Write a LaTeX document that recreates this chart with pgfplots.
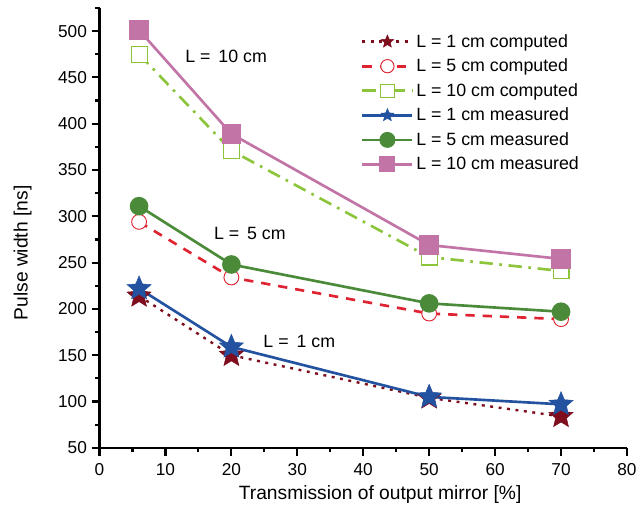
\documentclass[border=0pt]{standalone}
\usepackage{fontspec}
\setmainfont{Liberation Sans}
\usepackage{pgfplots}
\pgfplotsset{compat=1.18}
\usetikzlibrary{calc}
\definecolor{cRedDark}{HTML}{7E0E1E}
\definecolor{cRed}{HTML}{E02330}
\definecolor{cLime}{HTML}{8CC43C}
\definecolor{cBlue}{HTML}{2352A0}
\definecolor{cGreen}{HTML}{4A8A38}
\definecolor{cPink}{HTML}{C274A6}

% filled five-pointed star
\pgfdeclareplotmark{fstar}{%
  \pgfpathmoveto{\pgfpointpolar{90}{\pgfplotmarksize}}%
  \pgfpathlineto{\pgfpointpolar{126}{0.45\pgfplotmarksize}}%
  \pgfpathlineto{\pgfpointpolar{162}{\pgfplotmarksize}}%
  \pgfpathlineto{\pgfpointpolar{198}{0.45\pgfplotmarksize}}%
  \pgfpathlineto{\pgfpointpolar{234}{\pgfplotmarksize}}%
  \pgfpathlineto{\pgfpointpolar{270}{0.45\pgfplotmarksize}}%
  \pgfpathlineto{\pgfpointpolar{306}{\pgfplotmarksize}}%
  \pgfpathlineto{\pgfpointpolar{342}{0.45\pgfplotmarksize}}%
  \pgfpathlineto{\pgfpointpolar{18}{\pgfplotmarksize}}%
  \pgfpathlineto{\pgfpointpolar{54}{0.45\pgfplotmarksize}}%
  \pgfpathclose
  \pgfusepathqfillstroke}

\begin{document}
\begin{tikzpicture}
\begin{axis}[
  name=ax,
  scale only axis,
  width=397.5pt, height=331.5pt,
  xmin=0, xmax=80, ymin=50, ymax=525,
  axis lines=left,
  axis line style={line width=1.6pt, -},
  xtick={0,10,...,80}, ytick={50,100,...,500},
  minor xtick={5,15,...,75}, minor ytick={75,125,...,525},
  tick align=outside,
  major tick length=6pt, minor tick length=3.5pt,
  every tick/.style={black, line width=1.6pt},
  tick label style={font=\fontsize{13}{15}\selectfont},
  xticklabel style={yshift=-2pt},
  /pgf/number format/assume math mode=true,
  xlabel={Transmission of output mirror [\%]},
  ylabel={Pulse width [ns]},
  label style={font=\fontsize{14.5}{17}\selectfont},
  xlabel style={at={(ticklabel cs:0.532)}, yshift=-1pt},
  ylabel style={at={(ticklabel cs:0.443)}, yshift=13pt},
  legend cell align=left,
  legend style={draw=none, fill=none, at={(rel axis cs:0.488,0.953)}, anchor=north west,
    font=\fontsize{13.4}{16}\selectfont, row sep=3.3pt},
  legend image code/.code={
    \draw[mark repeat=2,mark phase=2,#1] plot coordinates {(0cm,0cm) (0.66cm,0cm) (1.32cm,0cm)};},
  legend image post style={mark size=5pt},
  clip=false,
]
% L = 1 cm computed
\addplot[cRedDark, line width=1.8pt, dash pattern=on 2.2pt off 4.2pt,
  mark=fstar, mark size=9.5pt, mark options={solid, fill=cRedDark, line width=0.4pt}]
  coordinates {(6,214) (20,150) (50,104) (70,84)};
\addlegendentry{L = 1 cm computed}
% L = 5 cm computed
\addplot[cRed, line width=2pt, dash pattern=on 7pt off 6pt,
  mark=*, mark size=5.6pt, mark options={solid, fill=white, line width=0.7pt}]
  coordinates {(6,294) (20,234) (50,195) (70,189)};
\addlegendentry{L = 5 cm computed}
% L = 10 cm computed
\addplot[cLime, line width=2pt, dash pattern=on 10pt off 5pt on 2pt off 5pt,
  mark=square*, mark size=6pt, mark options={solid, fill=white, line width=0.8pt}]
  coordinates {(6,475) (20,371) (50,256) (70,241)};
\addlegendentry{L = 10 cm computed}
% L = 1 cm measured
\addplot[cBlue, line width=2pt, mark=fstar, mark size=9.5pt,
  mark options={fill=cBlue, line width=0.4pt}]
  coordinates {(6,222) (20,159) (50,105) (70,97)};
\addlegendentry{L = 1 cm measured}
% L = 5 cm measured
\addplot[cGreen, line width=2pt, mark=*, mark size=6pt]
  coordinates {(6,311) (20,248) (50,206) (70,197)};
\addlegendentry{L = 5 cm measured}
% L = 10 cm measured
\addplot[cPink, line width=2pt, mark=square*, mark size=6.3pt]
  coordinates {(6,501) (20,389) (50,269) (70,254)};
\addlegendentry{L = 10 cm measured}

\node[font=\fontsize{13.4}{15}\selectfont] at (axis cs:19.2,473) {L =\, 10 cm};
\node[font=\fontsize{13.4}{15}\selectfont] at (axis cs:22.8,281) {L =\, 5 cm};
\node[font=\fontsize{13.4}{15}\selectfont] at (axis cs:30.3,165) {L =\, 1 cm};
\end{axis}
\path[use as bounding box] ($(ax.south west)+(-75pt,-49.5pt)$) rectangle ($(ax.north east)+(8.25pt,6pt)$);
\end{tikzpicture}
\end{document}
